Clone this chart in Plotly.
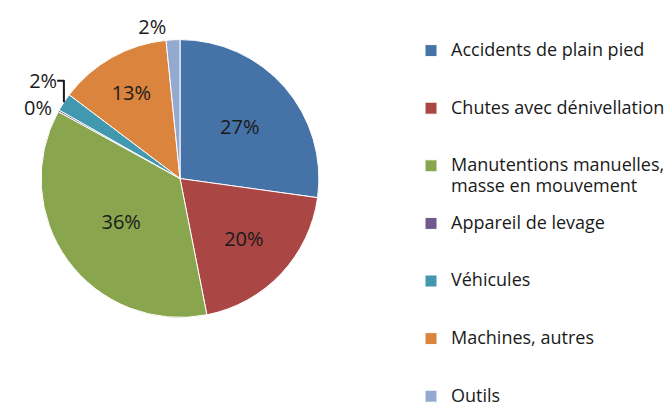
import plotly.graph_objects as go

categories = [
    "Accidents de plain pied",
    "Chutes avec dénivellation",
    "Manutentions manuelles,<br>masse en mouvement",
    "Appareil de levage",
    "Véhicules",
    "Machines, autres",
    "Outils",
]
values = [27.2, 19.7, 36.1, 0.2, 2.1, 13.1, 1.6]
colors = ["#4572A7", "#AA4643", "#89A54E", "#71588F", "#4198AF", "#DB843D", "#93A9CF"]
positions = ["inside", "inside", "inside", "outside", "outside", "inside", "outside"]

LEG_FS = 18
legend_labels = []
for i, c in enumerate(categories):
    lines = c.split("<br>")
    parts = []
    for j, l in enumerate(lines):
        s = f"<span style='font-size:{LEG_FS}px'>{l}</span>"
        if j > 0:
            s = f"<sub>{s}</sub>"
        parts.append(s)
    pad = 0 if i == len(categories) - 1 else 3 - len(lines)
    legend_labels.append("<br>".join(parts) + "<br> " * pad)

# page body has an 8px margin: figure is laid out in page coords minus 8
OFF = 8
W, H = 672 - OFF, 412 - OFF
cx, cy, r = 180 - OFF, 175 - OFF, 141

fig = go.Figure(go.Pie(
    labels=legend_labels,
    values=values,
    sort=False,
    direction="clockwise",
    rotation=0,
    marker=dict(colors=colors, line=dict(color="white", width=1)),
    texttemplate="%{percent:.0%}",
    textposition=positions,
    insidetextorientation="horizontal",
    textfont=dict(family="Open Sans", size=20, color="#1a1a1a"),
    hoverinfo="percent",
    domain=dict(x=[(cx - r) / W, (cx + r) / W], y=[(H - cy - r) / H, (H - cy + r) / H]),
))

fig.update_layout(
    width=W, height=H,
    margin=dict(l=0, r=0, t=0, b=0),
    paper_bgcolor="white",
    plot_bgcolor="white",
    font=dict(family="Open Sans", size=14.0, color="#1a1a1a"),
    legend=dict(
        x=403 / W, xanchor="left", y=1 - 23 / H, yanchor="top",
        valign="top",
        font=dict(family="Open Sans", size=14.0, color="#1a1a1a"),
        itemwidth=30,
        maxheight=1000,
    ),
)

fig.write_html("out.html")
